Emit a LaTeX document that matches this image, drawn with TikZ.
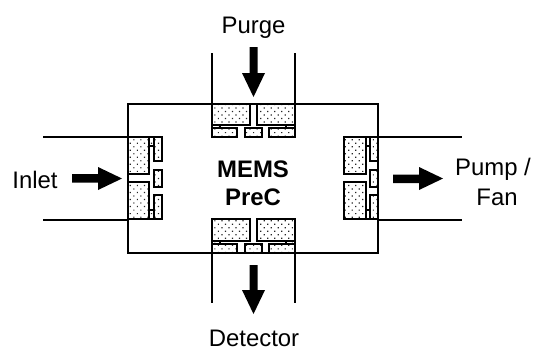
\documentclass[tikz,border=0pt]{standalone}
\usepackage{fontspec}
\setmainfont{Liberation Sans}
\usetikzlibrary{patterns.meta}
\begin{document}
\begin{tikzpicture}[x=1bp,y=-1bp,
  wall/.style={line width=1.6pt,black},
  pad/.style={draw=black,line width=1.6pt,pattern={Dots[distance=5pt,angle=45,radius=.85pt]},pattern color=black!85},
  lab/.style={font=\fontsize{24}{30}\selectfont,align=center,inner sep=0pt,anchor=base}]
\useasboundingbox (0,0) rectangle (533,351);
% chamber walls
\draw[wall] (128,104) rectangle (378,253);
\draw[wall] (212,53) -- (212,137) (295,53) -- (295,137);
\draw[wall] (212,253) -- (212,303) (295,253) -- (295,303);
\draw[wall] (43,137) -- (128,137) (43,220) -- (128,220);
\draw[wall] (378,137) -- (462,137) (378,220) -- (462,220);
% top pads
\draw[pad] (212,104) rectangle (250,125);
\draw[pad] (257,104) rectangle (295,125);
\draw[pad] (212,128) rectangle (237,137);
\draw[pad] (245,128) rectangle (262,137);
\draw[pad] (269,128) rectangle (295,137);
\draw[pad] (212,125) rectangle (220,128);
\draw[pad] (286,125) rectangle (295,128);
% bottom pads
\draw[pad] (212,219) rectangle (250,241);
\draw[pad] (257,219) rectangle (295,241);
\draw[pad] (212,244) rectangle (237,253);
\draw[pad] (245,244) rectangle (262,253);
\draw[pad] (269,244) rectangle (295,253);
\draw[pad] (212,241) rectangle (220,244);
\draw[pad] (286,241) rectangle (295,244);
% left pads
\draw[pad] (128,137) rectangle (149,174);
\draw[pad] (128,182) rectangle (149,219);
\draw[pad] (154,137) rectangle (162,161);
\draw[pad] (154,170) rectangle (162,187);
\draw[pad] (154,195) rectangle (162,219);
\draw[pad] (149,137) rectangle (154,146);
\draw[pad] (149,210) rectangle (154,219);
% right pads
\draw[pad] (344,137) rectangle (366,174);
\draw[pad] (344,182) rectangle (366,219);
\draw[pad] (370,137) rectangle (378,161);
\draw[pad] (370,170) rectangle (378,187);
\draw[pad] (370,195) rectangle (378,219);
\draw[pad] (366,137) rectangle (370,146);
\draw[pad] (366,210) rectangle (370,219);
% flow arrows
\fill (249.5,47) -- (257.5,47) -- (257.5,73) -- (265,73) -- (253.5,97) -- (242,73) -- (249.5,73) -- cycle;
\fill (249.5,265) -- (257.5,265) -- (257.5,290) -- (265,290) -- (253.5,314) -- (242,290) -- (249.5,290) -- cycle;
\fill (72,174) -- (98,174) -- (98,167) -- (122,178.5) -- (98,190) -- (98,182.5) -- (72,182.5) -- cycle;
\fill (393,174.5) -- (419,174.5) -- (419,167) -- (443,178.5) -- (419,190) -- (419,183) -- (393,183) -- cycle;
% labels
\node[lab] (purge) at (253.5,33) {Purge};
\node[lab] (inlet) at (35,188) {Inlet};
\node[lab] (pump) at (493,175) {Pump /};
\node[lab] (fan) at (497,205) {Fan};
\node[lab] (det) at (254,346) {Detector};
\node[lab,font=\fontsize{24}{30}\selectfont\bfseries] (mems) at (253,177) {MEMS};
\node[lab,font=\fontsize{24}{30}\selectfont\bfseries] (prec) at (253,205) {PreC};
\end{tikzpicture}
\end{document}
